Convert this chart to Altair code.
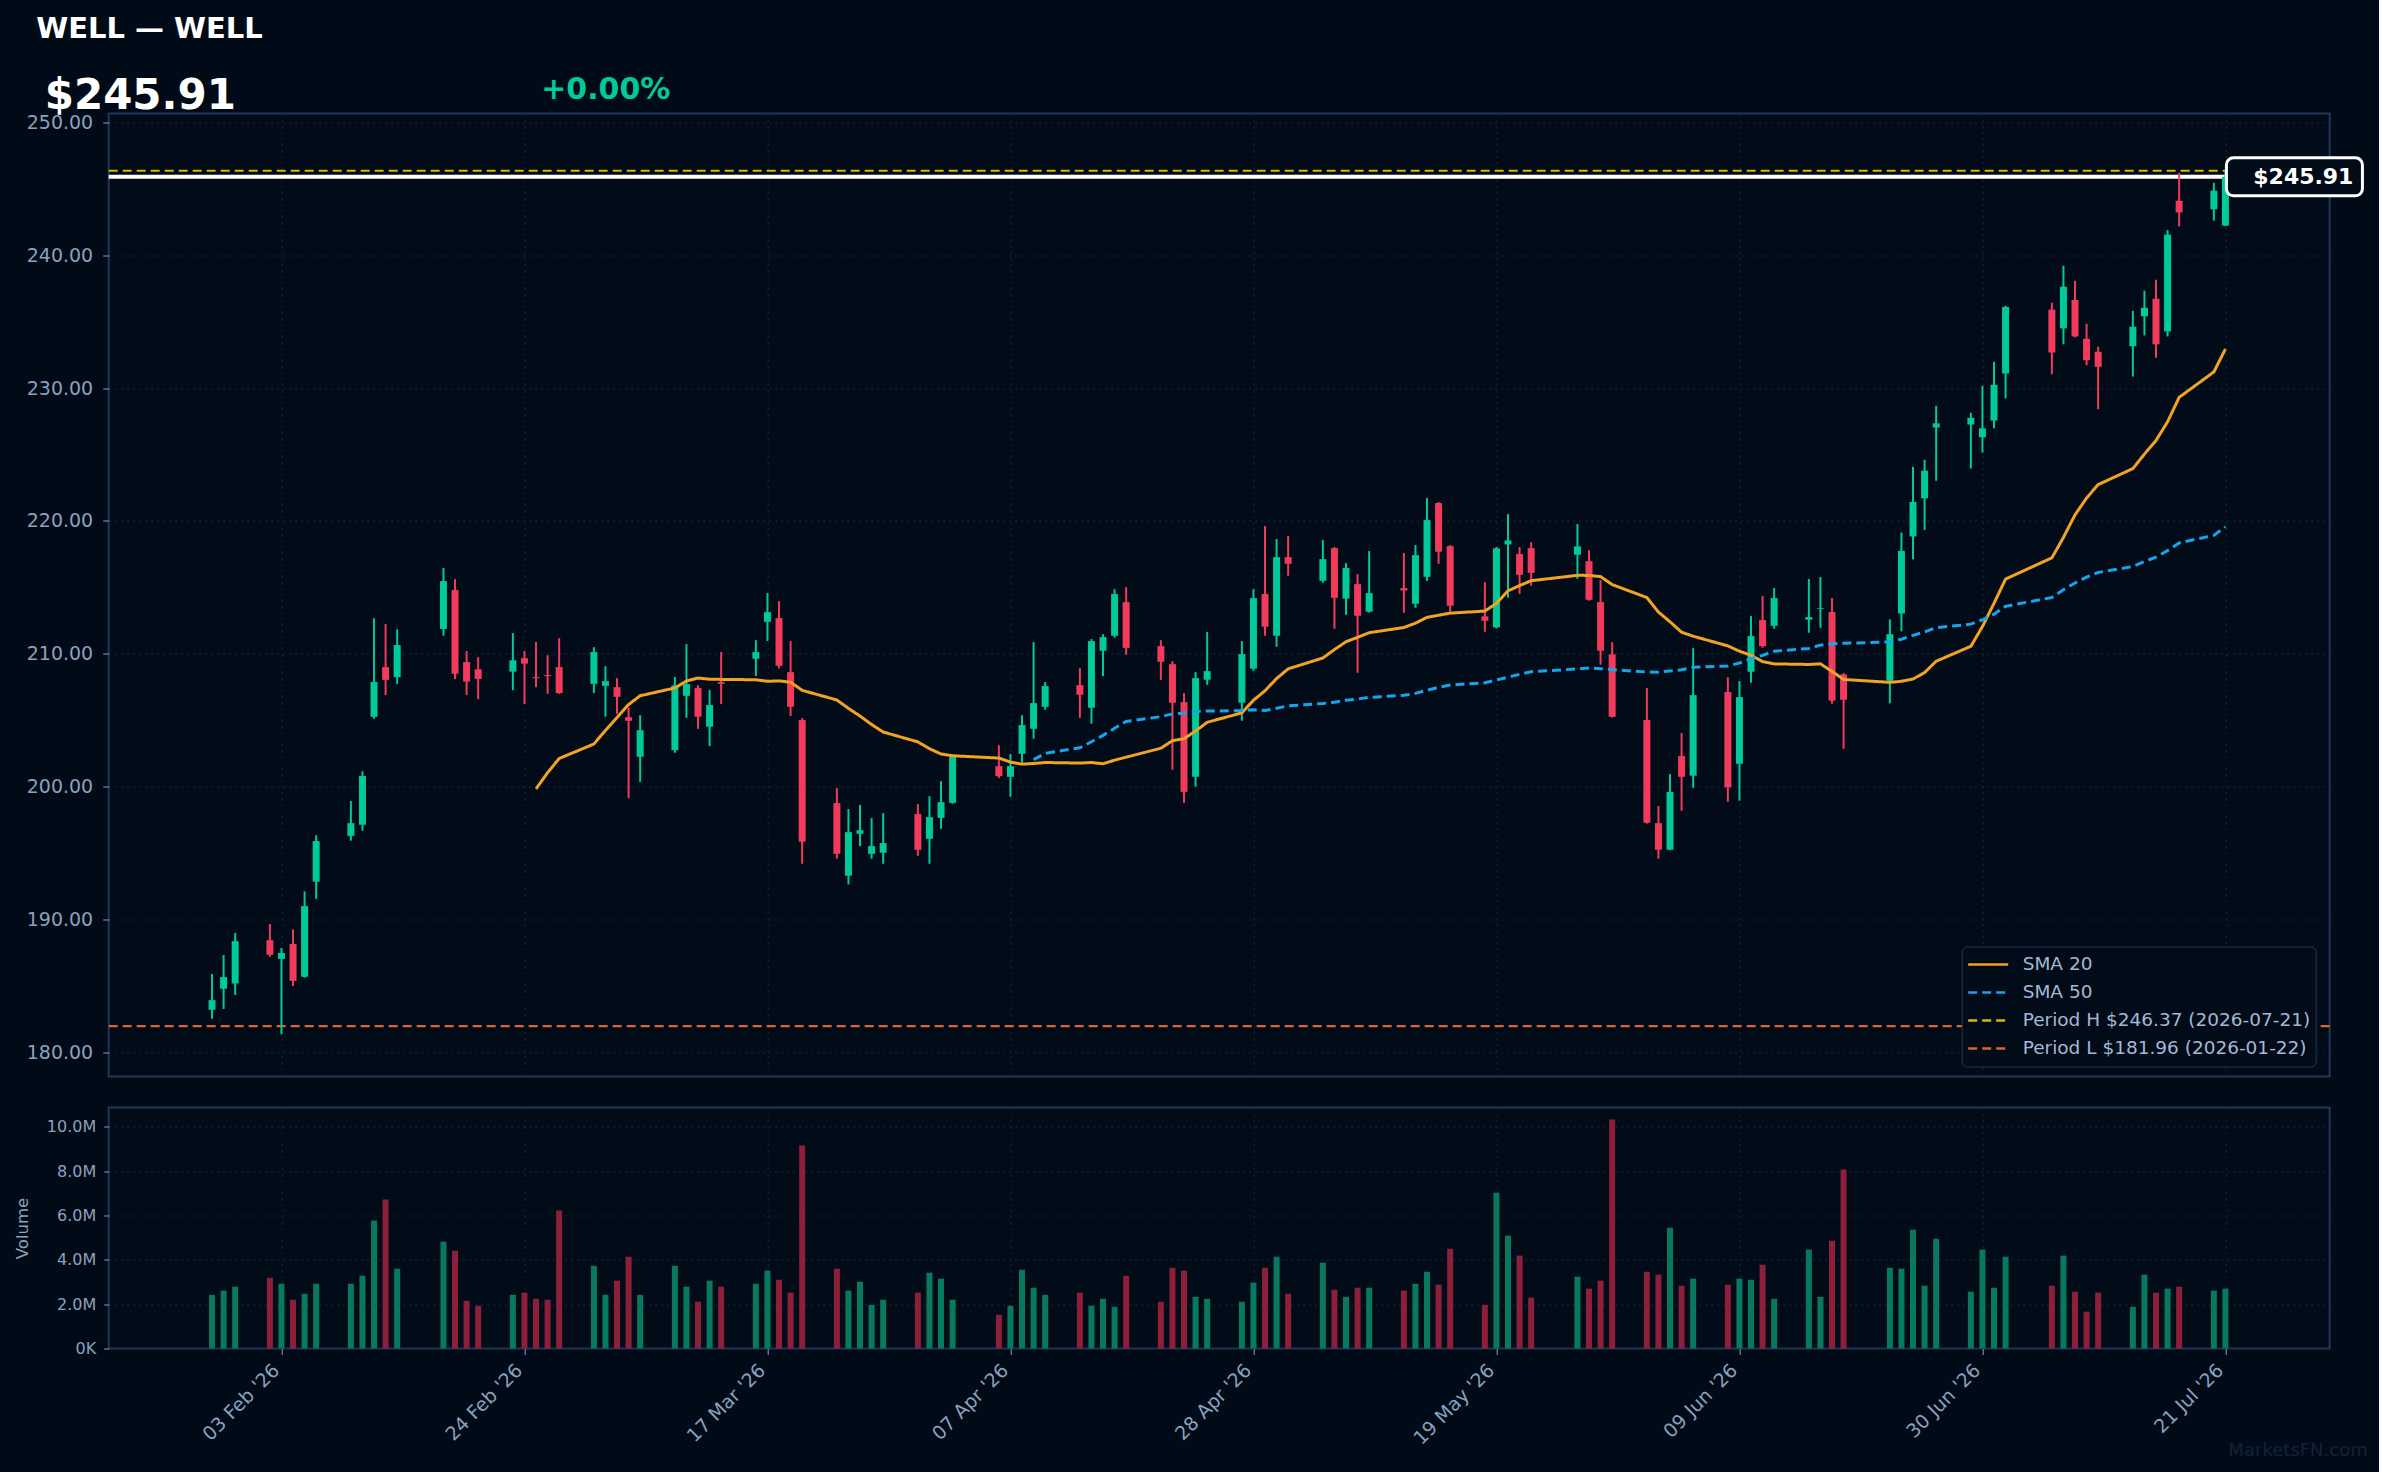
import altair as alt
import pandas as pd

# ---------------- data ----------------
HOLIDAYS = ["2026-02-16", "2026-04-03", "2026-05-25", "2026-06-19", "2026-07-03"]
DATES = [d.strftime("%Y-%m-%d") for d in pd.bdate_range("2026-01-28", "2026-07-21")
         if d.strftime("%Y-%m-%d") not in HOLIDAYS]

OPEN = [183.19, 184.77, 185.16, 188.42, 187.02, 188.14, 185.67, 192.83, 196.28, 197.11,
        205.25, 208.99, 208.23, 211.86, 214.79, 209.37, 208.83, 208.65, 209.66, 208.24,
        208.39, 208.99, 207.73, 207.58, 207.48, 205.22, 202.24, 202.74, 206.83, 207.41,
        204.50, 207.86, 209.62, 212.40, 212.68, 208.61, 205.00, 198.75, 193.28, 196.44,
        194.93, 195.01, 197.92, 196.06, 197.64, 198.77, 201.53, 200.73, 202.46, 204.34,
        206.00, 207.63, 205.93, 210.22, 211.35, 213.88, 210.57, 209.21, 206.35, 200.73,
        208.04, 206.31, 208.87, 214.49, 211.35, 217.27, 215.49, 217.95, 214.14, 215.24,
        213.16, 214.94, 213.76, 215.79, 221.34, 218.10, 212.81, 211.98, 218.23, 217.50,
        217.95, 217.45, 216.97, 213.89, 209.95, 205.00, 197.24, 195.24, 202.29, 200.81,
        207.11, 201.71, 208.64, 212.53, 212.10, 212.56, 213.38, 213.13, 208.44, 207.96,
        213.02, 218.83, 221.70, 227.03, 227.26, 226.30, 227.56, 231.10, 235.91, 234.50,
        236.64, 233.71, 232.74, 233.15, 235.41, 236.73, 234.27, 244.11, 243.47, 242.24]
HIGH = [185.88, 187.31, 188.97, 189.64, 187.83, 189.23, 192.10, 196.33, 198.90, 201.15,
        212.67, 212.23, 211.84, 216.45, 215.62, 210.20, 209.74, 211.55, 210.20, 210.87,
        209.89, 211.17, 210.49, 209.06, 208.16, 205.93, 205.37, 208.24, 210.72, 207.63,
        207.26, 210.12, 211.02, 214.56, 213.96, 210.95, 205.15, 199.88, 198.30, 198.60,
        197.62, 197.99, 198.67, 199.27, 200.40, 202.30, 203.11, 202.44, 205.37, 210.87,
        207.86, 208.91, 211.10, 211.47, 214.86, 215.01, 211.02, 209.44, 207.03, 208.61,
        211.63, 210.95, 214.86, 219.61, 218.63, 218.86, 218.55, 218.03, 216.82, 215.99,
        217.73, 217.58, 218.18, 221.72, 221.42, 218.18, 215.39, 218.03, 220.51, 218.03,
        218.40, 219.76, 217.80, 215.54, 210.87, 207.41, 198.53, 200.93, 204.02, 210.42,
        208.24, 207.94, 212.83, 214.34, 214.94, 215.62, 215.77, 214.19, 208.54, 212.58,
        219.12, 224.07, 224.60, 228.67, 228.14, 230.17, 231.98, 236.20, 236.43, 239.22,
        238.08, 234.85, 233.12, 235.82, 237.34, 238.16, 241.91, 246.20, 245.46, 246.37]
LOW = [182.51, 183.24, 184.30, 187.18, 181.34, 184.97, 185.60, 191.54, 195.92, 196.67,
       205.10, 206.89, 207.72, 211.35, 208.08, 206.89, 206.57, 207.25, 206.21, 207.48,
       206.98, 206.98, 207.03, 205.25, 205.47, 199.12, 200.35, 202.54, 205.17, 204.34,
       203.04, 206.20, 208.31, 210.95, 208.90, 205.30, 194.18, 194.56, 192.62, 195.51,
       194.56, 194.18, 194.78, 194.18, 196.81, 198.70, 200.63, 199.22, 201.79, 203.59,
       205.78, 205.17, 204.72, 208.31, 211.20, 209.92, 208.03, 201.26, 198.77, 199.98,
       207.66, 204.95, 208.70, 211.35, 210.52, 215.87, 215.34, 211.88, 212.93, 208.56,
       213.10, 213.08, 213.46, 215.49, 216.77, 213.16, 211.65, 211.90, 214.21, 214.51,
       215.12, 215.64, 213.99, 209.17, 205.20, 197.20, 194.56, 195.20, 198.17, 199.90,
       198.85, 198.93, 207.81, 210.45, 211.88, 211.58, 211.95, 206.23, 202.84, 206.26,
       211.68, 217.10, 219.32, 223.02, 223.95, 225.15, 226.97, 229.23, 231.04, 233.30,
       233.83, 231.72, 228.41, 230.87, 233.97, 232.28, 233.89, 242.18, 242.62, 242.20]
CLOSE = [183.91, 185.65, 188.35, 187.33, 187.46, 185.36, 190.99, 195.89, 197.24, 200.79,
         207.87, 208.03, 210.65, 215.47, 208.49, 207.90, 208.10, 209.50, 209.25, 208.16,
         208.31, 207.03, 210.12, 207.93, 206.75, 204.95, 204.24, 207.61, 207.71, 205.25,
         206.13, 207.73, 210.12, 213.13, 209.09, 206.00, 195.84, 194.93, 196.56, 196.71,
         195.51, 195.74, 195.23, 197.69, 198.82, 202.24, 200.78, 201.53, 204.62, 206.28,
         207.56, 206.91, 210.95, 211.25, 214.49, 210.44, 209.39, 206.30, 199.60, 208.16,
         208.69, 209.97, 214.19, 212.03, 217.27, 216.77, 217.12, 214.21, 216.45, 212.86,
         214.56, 214.76, 217.42, 220.06, 217.68, 213.61, 212.48, 217.93, 218.53, 215.94,
         216.09, 218.08, 214.06, 210.22, 205.25, 197.27, 195.24, 199.58, 200.73, 206.88,
         199.93, 206.73, 211.33, 210.57, 214.19, 212.76, 213.43, 206.46, 206.53, 211.47,
         217.74, 221.43, 223.78, 227.35, 227.76, 226.97, 230.25, 236.11, 232.68, 237.64,
         233.89, 232.10, 231.60, 234.62, 236.05, 233.30, 241.56, 243.23, 244.87, 245.91]
VOLUME_M = [2.42, 2.61, 2.79, 3.19, 2.92, 2.20, 2.47, 2.92, 2.92, 3.28,
            5.77, 6.72, 3.60, 4.82, 4.41, 2.15, 1.93, 2.42, 2.52, 2.24,
            2.20, 6.22, 3.73, 2.42, 3.06, 4.14, 2.42, 3.73, 2.79, 2.11,
            3.06, 2.79, 2.92, 3.51, 3.10, 2.52, 9.16, 3.60, 2.61, 3.01,
            1.97, 2.20, 2.52, 3.42, 3.15, 2.20, 1.52, 1.93, 3.55, 2.74,
            2.42, 2.52, 1.93, 2.24, 1.88, 3.28, 2.11, 3.64, 3.51, 2.33,
            2.24, 2.11, 2.97, 3.64, 4.14, 2.47, 3.87, 2.65, 2.33, 2.74,
            2.74, 2.61, 2.92, 3.46, 2.88, 4.50, 1.97, 7.03, 5.09, 4.19,
            2.29, 3.24, 2.70, 3.06, 10.33, 3.46, 3.33, 5.45, 2.83, 3.15,
            2.88, 3.15, 3.10, 3.78, 2.24, 4.46, 2.33, 4.86, 8.07, 3.64,
            3.60, 5.36, 2.83, 4.95, 2.56, 4.46, 2.74, 4.14, 2.83, 4.19,
            2.56, 1.66, 2.52, 1.88, 3.33, 2.52, 2.70, 2.79, 2.61, 2.70]

SERIES = ["SMA 20", "SMA 50", "Period H $246.37 (2026-07-21)", "Period L $181.96 (2026-01-22)"]
PERIOD_LEVELS = [246.37, 181.96]
LAST_PRICE = 245.91
TICKER_TITLE = "WELL — WELL"
PRICE_TEXT = "$245.91"
CHANGE_TEXT = "+0.00%"
WATERMARK = "MarketsFN.com"
TICK_DATES = ["2026-02-03", "2026-02-24", "2026-03-17", "2026-04-07", "2026-04-28",
              "2026-05-19", "2026-06-09", "2026-06-30", "2026-07-21"]
PRICE_TICKS = [180, 190, 200, 210, 220, 230, 240, 250]
VOL_TICKS = [0, 2, 4, 6, 8, 10]

# ---------------- style ----------------
BG = "#010b17"
PLOT_BG = "#020c19"
BORDER = "#1e3757"
GRID = "#1a2839"
LABEL = "#8aa1be"
LEG_LABEL = "#a3b8d2"
UP = "#00c99a"
DOWN = "#f23a5c"
VUP = "#077a5e"
VDOWN = "#8d1f3a"
SERIES_COLORS = ["#f2a323", "#13a6ea", "#d9b800", "#e2622f"]
FONT = "DejaVu Sans"

W, H_PRICE, H_VOL = 2221, 963, 241


def ms(s):
    return int(pd.Timestamp(s).value // 10**6)


DAY = 86400000
X_DOMAIN = [ms("2026-02-03") - int(14.93 * DAY), ms("2026-07-21") + int(9.01 * DAY)]
TICK_MS = [ms(d) for d in TICK_DATES]

df = pd.DataFrame({"date": DATES, "open": OPEN, "high": HIGH, "low": LOW,
                   "close": CLOSE, "vol": VOLUME_M})

xscale = alt.Scale(type="utc", domain=X_DOMAIN, nice=False, padding=0)
price_xaxis = alt.Axis(values=TICK_MS, labels=False, ticks=False, domain=False,
                       grid=True, title=None, minExtent=0, maxExtent=0)
vol_xaxis = alt.Axis(values=TICK_MS, labelExpr="utcFormat(datum.value, \"%d %b '%y\")",
                     labelAngle=-45, labelAlign="right", labelBaseline="top",
                     labelPadding=6, labelOffset=-12, tickSize=6, labelFontSize=19,
                     grid=True, title=None, domain=False)
yscale = alt.Scale(domain=[178.16, 250.68], nice=False, zero=False)
price_yaxis = alt.Axis(values=PRICE_TICKS, format=".2f", tickSize=6, labelPadding=10,
                       labelFontSize=19, grid=True, title=None, domain=False)

XP = alt.X("date:T", scale=xscale, axis=price_xaxis)

up_cond = alt.condition("datum.close >= datum.open", alt.value(UP), alt.value(DOWN))
vol_cond = alt.condition("datum.close >= datum.open", alt.value(VUP), alt.value(VDOWN))

base = alt.Chart(df)

legend = alt.Legend(title=None, orient="none", legendX=1853, legendY=833,
                    fillColor=PLOT_BG, strokeColor=BORDER, cornerRadius=5, padding=5,
                    labelFontSize=18.5, labelColor=LEG_LABEL, labelFont=FONT, labelLimit=0,
                    symbolType="stroke", symbolSize=1600, symbolStrokeWidth=2.6,
                    clipHeight=26, rowPadding=2, labelOffset=13)
color_enc = alt.Color("series:N", scale=alt.Scale(domain=SERIES, range=SERIES_COLORS),
                      legend=legend)
dash_enc = alt.StrokeDash("series:N",
                          scale=alt.Scale(domain=SERIES,
                                          range=[[1, 0], [9, 5], [9, 5], [9, 5]]),
                          legend=legend)

period_df = pd.DataFrame({"series": SERIES[2:], "level": PERIOD_LEVELS})
period_rules = alt.Chart(period_df).mark_rule(strokeWidth=2.2).encode(
    y=alt.Y("level:Q", scale=yscale, axis=price_yaxis),
    color=color_enc, strokeDash=dash_enc)

last_df = pd.DataFrame({"date": [DATES[-1]], "price": [LAST_PRICE], "label": [f"${LAST_PRICE:.2f}"]})
last_line = alt.Chart(last_df).mark_rule(color="#ffffff", strokeWidth=4).encode(
    y=alt.Y("price:Q", scale=yscale, axis=price_yaxis))

wicks = base.mark_rule(strokeWidth=2).encode(
    x=XP, y=alt.Y("low:Q", scale=yscale, axis=price_yaxis), y2="high:Q", color=up_cond)
bodies = base.mark_bar(width=7).encode(
    x=XP, y=alt.Y("open:Q", scale=yscale, axis=price_yaxis), y2="close:Q", color=up_cond)

sma = (base
       .transform_window(sma20="mean(close)", n20="count()", frame=[-19, 0],
                         sort=[alt.SortField("date")])
       .transform_window(sma50="mean(close)", n50="count()", frame=[-49, 0],
                         sort=[alt.SortField("date")])
       .transform_calculate(s20="datum.n20 >= 20 ? datum.sma20 : null",
                            s50="datum.n50 >= 50 ? datum.sma50 : null")
       .transform_fold(["s20", "s50"], as_=["key", "value"])
       .transform_filter("isValid(datum.value)")
       .transform_calculate(series="datum.key == 's20' ? 'SMA 20' : 'SMA 50'")
       .mark_line(strokeWidth=3)
       .encode(x=XP, y=alt.Y("value:Q", scale=yscale, axis=price_yaxis),
               color=color_enc, strokeDash=dash_enc))

box = alt.Chart(last_df).mark_rect(fill=PLOT_BG, stroke="#ffffff", strokeWidth=3,
                                   cornerRadius=7, xOffset=1, x2Offset=137,
                                   yOffset=-19, y2Offset=19).encode(
    x=XP, x2="date:T", y=alt.Y("price:Q", scale=yscale, axis=price_yaxis), y2="price:Q")
box_text = alt.Chart(last_df).mark_text(align="right", baseline="middle", dx=128,
                                        font=FONT, fontWeight="bold", fontSize=22,
                                        color="#ffffff").encode(
    x=XP, y=alt.Y("price:Q", scale=yscale, axis=price_yaxis), text="label:N")

hdr_df = pd.DataFrame({"t1": [TICKER_TITLE], "t2": [PRICE_TEXT], "t3": [CHANGE_TEXT]})
t1 = alt.Chart(hdr_df).mark_text(align="left", baseline="alphabetic", font=FONT,
                                 fontWeight="bold", fontSize=29, color="#ffffff").encode(
    x=alt.value(-72.5), y=alt.value(-75.3), text="t1:N")
t2 = alt.Chart(hdr_df).mark_text(align="left", baseline="alphabetic", font=FONT,
                                 fontWeight="bold", fontSize=42, color="#ffffff").encode(
    x=alt.value(-64), y=alt.value(-5), text="t2:N")
t3 = alt.Chart(hdr_df).mark_text(align="left", baseline="alphabetic", font=FONT,
                                 fontWeight="bold", fontSize=30, color=UP).encode(
    x=alt.value(432.5), y=alt.value(-15), text="t3:N")

price = alt.layer(period_rules, last_line, wicks, bodies, sma, box, box_text, t1, t2, t3
                  ).properties(width=W, height=H_PRICE)

vol_bars = base.mark_bar(width=6).encode(
    x=alt.X("date:T", scale=xscale, axis=vol_xaxis),
    y=alt.Y("vol:Q", scale=alt.Scale(domain=[0, 10.87], nice=False),
            axis=alt.Axis(values=VOL_TICKS,
                          labelExpr="datum.value == 0 ? '0K' : format(datum.value, '.1f') + 'M'",
                          tickSize=5, labelPadding=8, labelFontSize=16, grid=True,
                          title="Volume", titleFontSize=16.5, titleFontWeight="normal",
                          titleColor=LABEL, titlePadding=16, domain=False)),
    color=vol_cond)
wm_df = pd.DataFrame({"t": [WATERMARK]})
watermark = alt.Chart(wm_df).mark_text(align="right", baseline="middle", font=FONT,
                                       fontSize=18, color="#10233a").encode(
    x=alt.value(2259), y=alt.value(343.5), text="t:N")

vol = alt.layer(vol_bars, watermark).properties(width=W, height=H_VOL)

chart = (alt.vconcat(price, vol, spacing=29)
         .properties(padding={"left": 12.7, "top": 13.5, "right": 10, "bottom": 10})
         .configure(background=BG, font=FONT)
         .configure_view(fill=PLOT_BG, stroke=BORDER, strokeWidth=2)
         .configure_axis(labelColor=LABEL, tickColor=LABEL, gridColor=GRID,
                         gridDash=[2, 4], gridWidth=1, labelFont=FONT, titleFont=FONT))

chart.save("out.html", embed_options={"renderer": "svg", "actions": False})
